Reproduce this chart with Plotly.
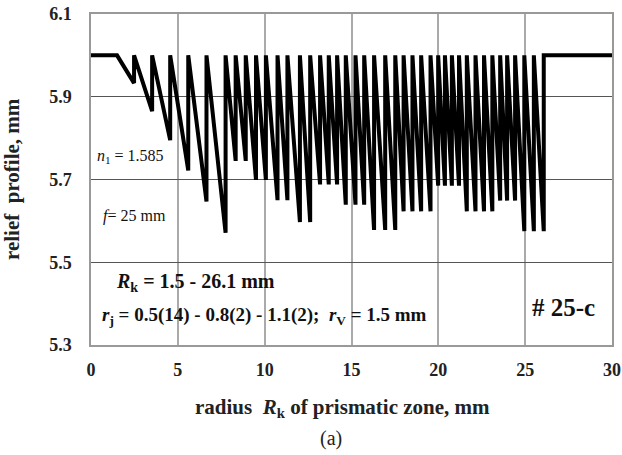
import plotly.graph_objects as go

# Zone data
start_radius = 1.5
end_radius = 30.0
top_level = 6.0
zone_ends = [2.48, 3.52, 4.56, 5.60, 6.65, 7.75, 8.33, 8.91, 9.50, 10.07,
             10.74, 11.31, 12.03, 12.62, 13.19, 13.69, 14.17, 14.67, 15.23, 15.73,
             16.30, 16.94, 17.52, 18.00, 18.51, 19.01, 19.55, 19.99, 20.38, 20.78,
             21.19, 21.64, 22.14, 22.63, 23.11, 23.56, 23.96, 24.42, 24.95, 25.50,
             26.07]
zone_mins = [5.933, 5.865, 5.795, 5.722, 5.647, 5.571, 5.745, 5.745, 5.699, 5.699,
             5.650, 5.650, 5.597, 5.597, 5.688, 5.688, 5.688, 5.639, 5.639, 5.639,
             5.578, 5.578, 5.578, 5.623, 5.623, 5.623, 5.623, 5.685, 5.685, 5.685,
             5.685, 5.623, 5.623, 5.623, 5.623, 5.649, 5.649, 5.649, 5.575, 5.575,
             5.575]
x_ticks = [0, 5, 10, 15, 20, 25, 30]
y_ticks = [5.3, 5.5, 5.7, 5.9, 6.1]

# build the sawtooth profile from the zone data
xs = [0.0, start_radius]
ys = [top_level, top_level]
for xe, ym in zip(zone_ends, zone_mins):
    xs += [xe, xe]
    ys += [ym, top_level]
xs.append(end_radius)
ys.append(top_level)

FONT = "Liberation Serif"

fig = go.Figure()
fig.add_trace(go.Scatter(x=xs, y=ys, mode="lines",
                         line=dict(color="black", width=4),
                         hoverinfo="skip", showlegend=False))

fig.update_layout(
    width=622, height=455,
    margin=dict(l=91, r=9.5, t=14, b=110),
    paper_bgcolor="white", plot_bgcolor="white",
    font=dict(family=FONT, color="black"),
    showlegend=False,
)
fig.update_xaxes(range=[0, 30], tickvals=x_ticks, ticktext=[str(v) for v in x_ticks],
                 automargin=False, ticklabeloverflow="allow",
                 showgrid=True, gridcolor="#aaaaaa", gridwidth=1.5,
                 showline=True, linecolor="#999999", linewidth=1.5, mirror=True,
                 zeroline=False, ticks="outside", ticklen=8, tickcolor="rgba(0,0,0,0)",
                 tickfont=dict(family=FONT, size=18, color="#222", weight="bold"))
fig.update_yaxes(range=[5.3, 6.1], tickvals=y_ticks, ticktext=[f"{v:.1f}" for v in y_ticks],
                 automargin=False, ticklabeloverflow="allow",
                 showgrid=True, gridcolor="#555555", gridwidth=1,
                 showline=True, linecolor="#999999", linewidth=1.5, mirror=True,
                 zeroline=False, ticks="outside", ticklen=14, tickcolor="rgba(0,0,0,0)",
                 tickfont=dict(family=FONT, size=18, color="#222", weight="bold"))

ann = []
# in-plot annotations (data coordinates)
ann.append(dict(x=0.25, y=5.755, xref="x", yref="y", xanchor="left", yanchor="middle",
                text="<i>n</i><sub>1</sub> = 1.585", showarrow=False,
                font=dict(family=FONT, size=16, color="#111")))
ann.append(dict(x=0.6, y=5.612, xref="x", yref="y", xanchor="left", yanchor="middle",
                text="<i>f</i>= 25 mm", showarrow=False,
                font=dict(family=FONT, size=16, color="#111")))
ann.append(dict(x=1.35, y=5.451, xref="x", yref="y", xanchor="left", yanchor="middle",
                text="<i>R</i><sub>k</sub> = 1.5 - 26.1 mm", showarrow=False,
                font=dict(family=FONT, size=20, color="#111", weight="bold")))
ann.append(dict(x=0.49, y=5.369, xref="x", yref="y", xanchor="left", yanchor="middle",
                text="<i>r</i><sub>j</sub> = 0.5(14) - 0.8(2) - 1.1(2);&nbsp; "
                     "<i>r</i><sub>V</sub> = 1.5 mm", showarrow=False,
                font=dict(family=FONT, size=19, color="#111", weight="bold")))
ann.append(dict(x=27.2, y=5.39, xref="x", yref="y", xanchor="center", yanchor="middle",
                text="# 25-c", showarrow=False,
                font=dict(family=FONT, size=25, color="#111", weight="bold")))
# axis titles and caption (paper coords relative to the plot area)
ann.append(dict(x=(343 - 91.5) / 521, y=(345 - 408) / 330.7, xref="paper", yref="paper",
                xanchor="center", yanchor="middle", showarrow=False,
                text="radius&nbsp; <i>R</i><sub>k</sub> of prismatic zone, mm",
                font=dict(family=FONT, size=21, color="#222", weight="bold")))
ann.append(dict(x=(12 - 91.5) / 521, y=0.5, xref="paper", yref="paper",
                xanchor="center", yanchor="middle", showarrow=False, textangle=-90,
                text="relief&nbsp; profile, mm",
                font=dict(family=FONT, size=21, color="#222", weight="bold")))
ann.append(dict(x=(331 - 91.5) / 521, y=(345 - 438) / 330.7, xref="paper", yref="paper",
                xanchor="center", yanchor="middle", showarrow=False,
                text="(a)", font=dict(family=FONT, size=20, color="#222")))
fig.update_layout(annotations=ann)

# remove the default 8px page margin so the figure fills the window exactly
fig.write_html("out.html",
               config={"displayModeBar": False},
               post_script="document.body.style.margin='0px';document.body.style.overflow='hidden';")
